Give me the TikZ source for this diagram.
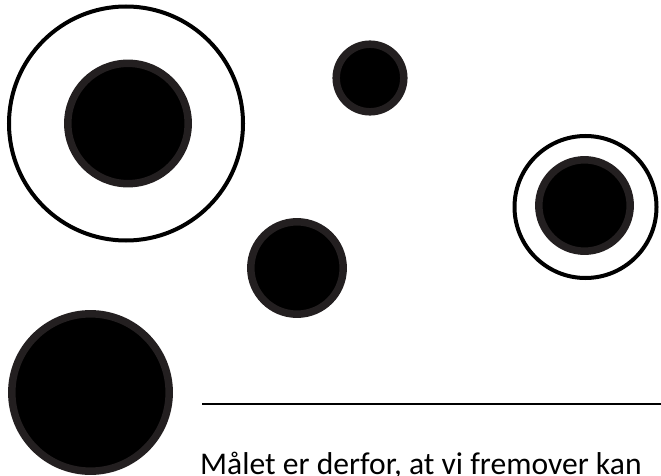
\documentclass[tikz,border=0pt]{standalone}
\usepackage{fontspec}
\setmainfont{Carlito}
\definecolor{rimgray}{HTML}{231F20}
\tikzset{
  disc/.style={fill=black, draw=rimgray, line width=7.5pt},
  ring/.style={draw=black, line width=4pt},
  rule/.style={draw=black, line width=2.6pt},
  caption/.style={anchor=base west, inner sep=0pt, font=\fontsize{31.6}{36}\selectfont}
}
\begin{document}
\begin{tikzpicture}[x=1pt,y=-1pt]
\useasboundingbox (0,0) rectangle (661,476);
% top-left target
\draw[ring] (126,123.5) circle[radius=117];
\draw[disc] (128,123.5) circle[radius=60.2];
% small top disc
\draw[disc] (370,78) circle[radius=33.8];
% middle disc
\draw[disc] (297,268) circle[radius=46.2];
% bottom-left disc
\draw[disc] (90.5,392.5) circle[radius=78.7];
% right target
\draw[ring] (585.5,207) circle[radius=71];
\draw[disc] (584.5,205.5) circle[radius=45.7];
% rule
\coordinate (rl) at (202,404);
\coordinate (rr) at (661,404);
\draw[rule] (rl) -- (rr);
% caption
\node[caption] (cap) at (200,474) {Målet er derfor, at vi fremover kan};
\end{tikzpicture}
\end{document}
